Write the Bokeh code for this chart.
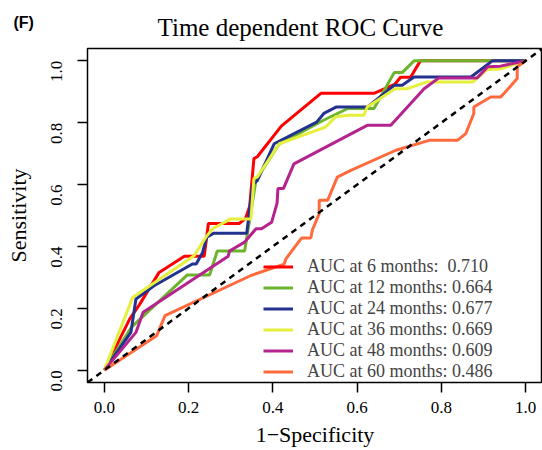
import math
from bokeh.plotting import figure
from bokeh.models import (Range1d, FixedTicker, PrintfTickFormatter, Slope,
                          Legend, LegendItem, Label)
from bokeh.embed import file_html
from bokeh.resources import INLINE

# ---- data ----
fpr_6m = [0, 0.06, 0.083, 0.13, 0.19, 0.237, 0.247, 0.32, 0.335, 0.345, 0.355, 0.363,
          0.42, 0.514, 0.64, 0.69, 0.703, 0.727, 0.75, 1.0]
tpr_6m = [0, 0.165, 0.211, 0.316, 0.368, 0.368, 0.474, 0.474, 0.49, 0.53, 0.684, 0.69,
          0.789, 0.895, 0.895, 0.925, 0.947, 0.947, 1.0, 1.0]

fpr_12m = [0, 0.065, 0.197, 0.25, 0.268, 0.333, 0.36, 0.415, 0.52, 0.578, 0.64, 0.688,
           0.707, 0.735, 1.0]
tpr_12m = [0, 0.14, 0.308, 0.308, 0.385, 0.385, 0.615, 0.731, 0.808, 0.846, 0.846,
           0.962, 0.962, 1.0, 1.0]

fpr_24m = [0, 0.063, 0.075, 0.118, 0.209, 0.218, 0.233, 0.243, 0.26, 0.338, 0.352,
           0.363, 0.403, 0.504, 0.521, 0.551, 0.625, 0.688, 0.707, 0.735, 0.87, 0.921, 1.0]
tpr_24m = [0, 0.122, 0.23, 0.273, 0.343, 0.343, 0.38, 0.43, 0.443, 0.443, 0.6,
           0.613, 0.732, 0.802, 0.83, 0.851, 0.851, 0.921, 0.921, 0.948, 0.948, 1.0, 1.0]

fpr_36m = [0, 0.067, 0.213, 0.241, 0.257, 0.30, 0.348, 0.355, 0.363, 0.415, 0.525,
           0.549, 0.581, 0.616, 0.624, 0.69, 0.72, 0.765, 0.875, 0.908, 0.94, 1.0]
tpr_36m = [0, 0.235, 0.37, 0.43, 0.457, 0.489, 0.489, 0.62, 0.624, 0.732, 0.786,
           0.819, 0.824, 0.824, 0.851, 0.91, 0.91, 0.932, 0.932, 0.972, 0.974, 1.0]

fpr_48m = [0, 0.075, 0.092, 0.294, 0.297, 0.333, 0.36, 0.373, 0.397, 0.41, 0.412,
           0.425, 0.45, 0.625, 0.68, 0.759, 0.794, 0.885, 0.91, 0.94, 1.0]
tpr_48m = [0, 0.122, 0.187, 0.368, 0.385, 0.414, 0.457, 0.457, 0.478, 0.54, 0.587,
           0.587, 0.667, 0.792, 0.792, 0.91, 0.945, 0.945, 0.981, 0.983, 1.0]

fpr_60m = [0, 0.124, 0.144, 0.348, 0.427, 0.431, 0.468, 0.49, 0.494, 0.51, 0.51, 0.53,
           0.553, 0.585, 0.692, 0.771, 0.838, 0.858, 0.877, 0.877, 0.917, 0.941, 0.98,
           0.98, 1.0]
tpr_60m = [0, 0.111, 0.176, 0.306, 0.343, 0.36, 0.427, 0.427, 0.454, 0.506, 0.549,
           0.549, 0.624, 0.646, 0.711, 0.743, 0.743, 0.765, 0.83, 0.851, 0.883, 0.883,
           0.943, 0.981, 1.0]

months = [6, 12, 24, 36, 48, 60]
auc_values = ["0.710", "0.664", "0.677", "0.669", "0.609", "0.486"]
colors = ["#FF0000", "#6BB42C", "#23318F", "#E5EF3C", "#B5238E", "#FF6B3D"]
tick_values = [0.0, 0.2, 0.4, 0.6, 0.8, 1.0]
title_text = "Time dependent ROC Curve"
panel_tag = "(F)"

series = [(fpr_6m, tpr_6m), (fpr_12m, tpr_12m), (fpr_24m, tpr_24m),
          (fpr_36m, tpr_36m), (fpr_48m, tpr_48m), (fpr_60m, tpr_60m)]

SERIF = "Liberation Serif"

p = figure(width=542, height=450, output_backend="svg", toolbar_location=None,
           x_range=Range1d(-0.04, 1.04), y_range=Range1d(-0.04, 1.04),
           min_border_left=87, min_border_right=0, min_border_top=48,
           min_border_bottom=68)
p.title_location = None
p.grid.visible = False
p.outline_line_color = "black"
p.outline_line_width = 1.5
p.background_fill_color = "white"
p.border_fill_color = "white"

for ax in (p.xaxis[0], p.yaxis[0]):
    ax.ticker = FixedTicker(ticks=tick_values)
    ax.formatter = PrintfTickFormatter(format="%.1f")
    ax.axis_line_color = None
    ax.major_tick_out = 10
    ax.major_tick_in = 0
    ax.major_tick_line_width = 1.5
    ax.minor_tick_line_color = None
    ax.major_label_text_font = SERIF
    ax.major_label_text_font_size = "17px"
    ax.major_label_text_color = "black"
    ax.axis_label_text_font = SERIF
    ax.axis_label_text_font_size = "22px"
    ax.axis_label_text_font_style = "normal"
    ax.axis_label_text_color = "black"

p.xaxis.axis_label = "1\u2212Specificity"
p.yaxis.axis_label = "Sensitivity"
p.yaxis.major_label_orientation = math.pi / 2
p.xaxis.major_label_standoff = 9
p.xaxis.axis_label_standoff = 6
p.yaxis.major_label_standoff = 21
p.yaxis.axis_label_standoff = 12

items = []
for (fx, ty), m, a, c in zip(series, months, auc_values, colors):
    r = p.line(fx, ty, line_color=c, line_width=3)
    if m == 6:
        lab = f"AUC at {m} months:\u00a0 {a}"
    else:
        lab = f"AUC at {m} months: {a}"
    items.append(LegendItem(label=lab, renderers=[r]))

diag = Slope(gradient=1, y_intercept=0, line_color="black", line_width=2.5,
             line_dash="6 5")
p.add_layout(diag)

legend = Legend(items=items, location=(176, 0), padding=0, margin=0, spacing=0,
                glyph_width=30, glyph_height=17, label_height=17,
                label_standoff=14, label_text_font=SERIF,
                label_text_font_size="18px", label_text_line_height=1.0,
                background_fill_alpha=0, border_line_color=None)
p.add_layout(legend)

# title and panel tag live in the top side panel (not clipped by the frame)
title_lbl = Label(x=213, y=21, x_units="screen", y_units="screen", text=title_text,
                  text_font=SERIF, text_font_size="25px", text_color="black",
                  text_baseline="alphabetic", text_align="center")
p.add_layout(title_lbl, "above")

tag = Label(x=-74, y=-1, x_units="screen", y_units="screen", text=panel_tag,
            text_font="Liberation Sans", text_font_style="bold",
            text_font_size="16px", text_color="black",
            text_baseline="alphabetic", text_align="left")
p.add_layout(tag, "above")

open("out.html", "w").write(file_html(p, INLINE))
